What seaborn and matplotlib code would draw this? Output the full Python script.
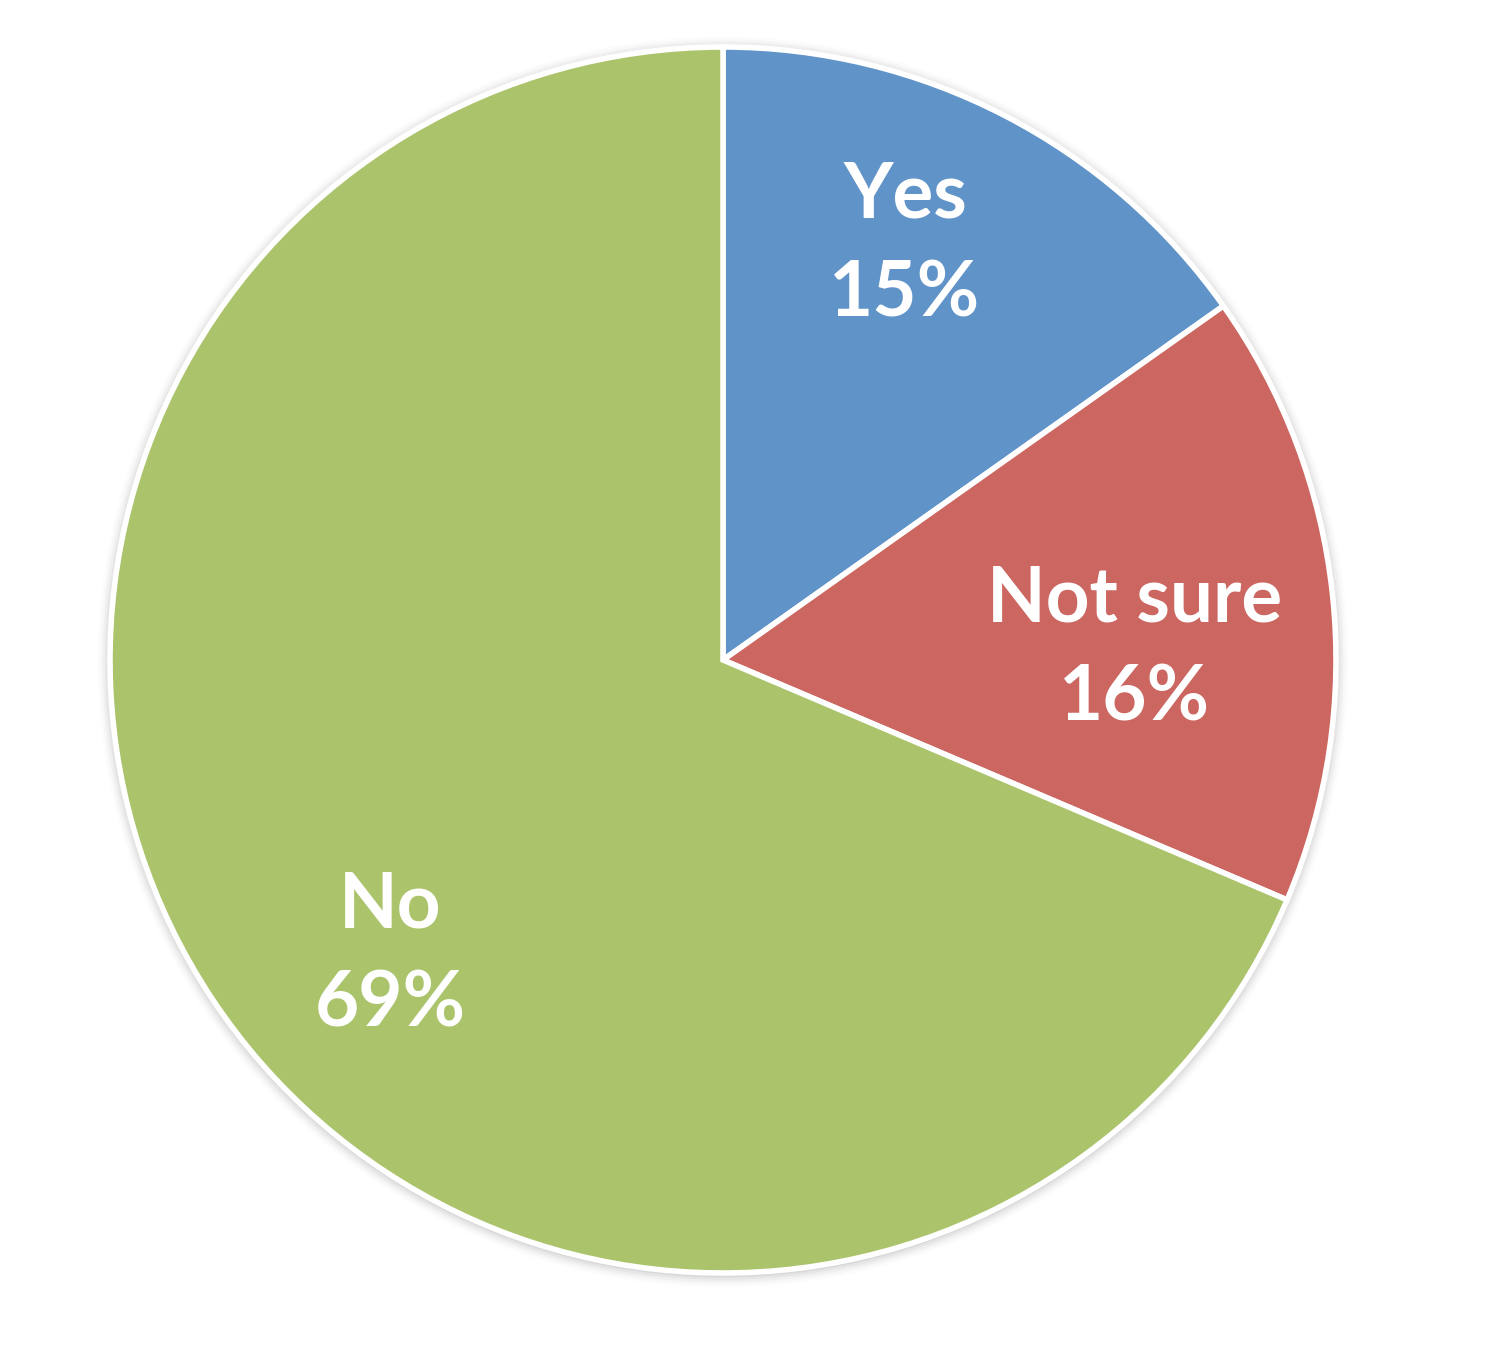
import matplotlib
matplotlib.use("Agg")
import matplotlib.pyplot as plt
import matplotlib.patches as mpatches
import seaborn as sns

# --- Data ---
categories = ["Yes", "Not sure", "No"]
shares = [15.2, 16.2, 68.6]
colors = ["#6093C7", "#CC6660", "#ABC46C"]

# label centres (in radius units, relative to pie centre), as placed in the original
label_pos = [(0.297, 0.677), (0.672, 0.018), (-0.543, -0.481)]

sns.set_theme(style="white")
plt.rcParams['font.family'] = ['Lato', 'DejaVu Sans']

fig = plt.figure(figsize=(15, 13.45), dpi=100)
ax = fig.add_axes([0, 0, 1, 1])

# soft shadow ring behind the pie
for i, a in enumerate([0.05, 0.04, 0.03, 0.02, 0.01]):
    ax.add_patch(mpatches.Circle((0.0, -0.003), 1.004 + i * 0.004, color="black",
                                 alpha=a, lw=0, zorder=0))

wedges, texts = ax.pie(
    shares, colors=colors, startangle=90, counterclock=False,
    labels=[f"{c}\n{s:.0f}%" for c, s in zip(categories, shares)],
    labeldistance=0.7,
    wedgeprops=dict(edgecolor="white", linewidth=4, zorder=2),
    textprops=dict(color="white", fontsize=55, fontweight="bold",
                   ha="center", va="center", linespacing=1.5),
)
for t, (x, y) in zip(texts, label_pos):
    t.set_position((x, y))
    t.set_horizontalalignment("center")
    t.set_zorder(3)

# place centre at (723, 660) px with radius 613 px
r_px = 613.0
ax.set_xlim(-723 / r_px, (1500 - 723) / r_px)
ax.set_ylim(-(1345 - 660) / r_px, 660 / r_px)
ax.set_aspect("auto")
ax.axis("off")

fig.savefig("out.png", dpi=100, facecolor="white")
